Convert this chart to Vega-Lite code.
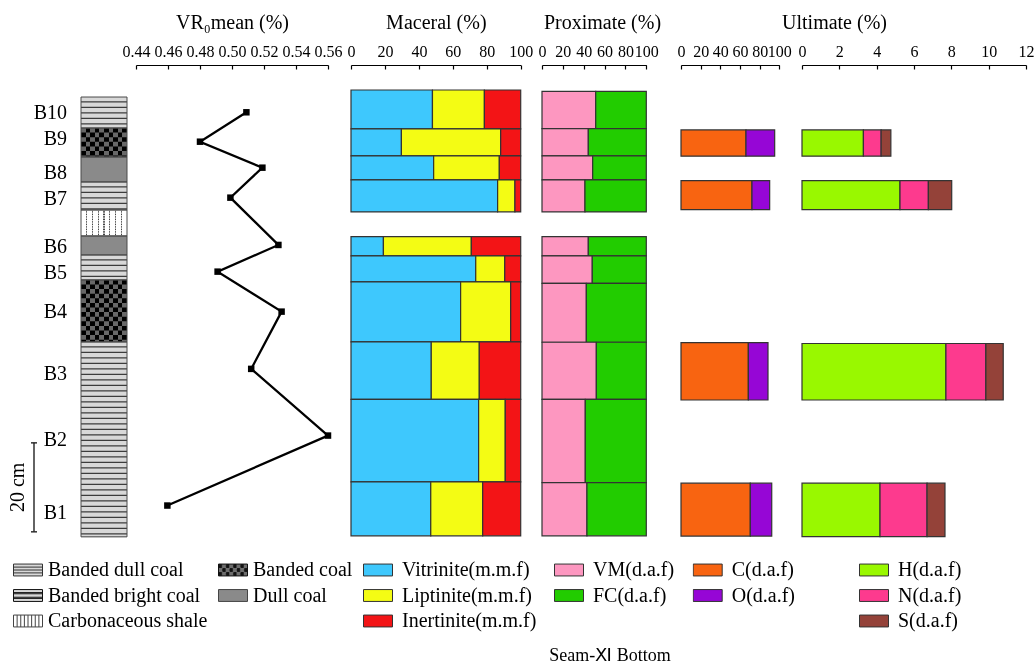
{
  "$schema": "https://vega.github.io/schema/vega-lite/v6.json",
  "background": "white",
  "padding": {"left": 8, "top": 12, "right": 0, "bottom": 0},
  "bounds": "flush",
  "spacing": 0,
  "title": {"text": "Seam-Ⅺ Bottom", "orient": "bottom", "anchor": "middle", "fontSize": 18, "fontWeight": "normal", "color": "#000", "offset": 15, "dx": 89},
  "datasets": {
    "scalebar": [{"label": "20 cm", "from": 77.74, "to": 97.74, "mid": 87.74}],
    "lith": [
      {"type": "Banded dull coal", "top": 0, "bottom": 6.96},
      {"type": "Banded coal", "top": 6.96, "bottom": 13.47},
      {"type": "Dull coal", "top": 13.47, "bottom": 19.09},
      {"type": "Banded dull coal", "top": 19.09, "bottom": 25.38},
      {"type": "Carbonaceous shale", "top": 25.38, "bottom": 31.23},
      {"type": "Dull coal", "top": 31.23, "bottom": 35.5},
      {"type": "Banded dull coal", "top": 35.5, "bottom": 41.11},
      {"type": "Banded coal", "top": 41.11, "bottom": 55.05},
      {"type": "Banded dull coal", "top": 55.05, "bottom": 98.87}
    ],
    "vr": [
      {"sample": "B10", "depth": 3.43, "labelDepth": 3.59, "vr": 0.509},
      {"sample": "B9", "depth": 10.04, "labelDepth": 9.38, "vr": 0.48},
      {"sample": "B8", "depth": 15.88, "labelDepth": 17.14, "vr": 0.519},
      {"sample": "B7", "depth": 22.62, "labelDepth": 22.96, "vr": 0.499},
      {"sample": "B6", "depth": 33.25, "labelDepth": 33.63, "vr": 0.529},
      {"sample": "B5", "depth": 39.25, "labelDepth": 39.54, "vr": 0.491},
      {"sample": "B4", "depth": 48.24, "labelDepth": 48.42, "vr": 0.531},
      {"sample": "B3", "depth": 61.11, "labelDepth": 62.28, "vr": 0.512},
      {"sample": "B2", "depth": 76.1, "labelDepth": 77.07, "vr": 0.56},
      {"sample": "B1", "depth": 91.83, "labelDepth": 93.54, "vr": 0.4596}
    ],
    "maceral": [
      {"sample": "B10", "top": -1.58, "bottom": 7.18, "component": "Vitrinite(m.m.f)", "value": 48.0},
      {"sample": "B10", "top": -1.58, "bottom": 7.18, "component": "Liptinite(m.m.f)", "value": 30.6},
      {"sample": "B10", "top": -1.58, "bottom": 7.18, "component": "Inertinite(m.m.f)", "value": 21.4},
      {"sample": "B9", "top": 7.18, "bottom": 13.25, "component": "Vitrinite(m.m.f)", "value": 29.7},
      {"sample": "B9", "top": 7.18, "bottom": 13.25, "component": "Liptinite(m.m.f)", "value": 58.5},
      {"sample": "B9", "top": 7.18, "bottom": 13.25, "component": "Inertinite(m.m.f)", "value": 11.8},
      {"sample": "B8", "top": 13.25, "bottom": 18.64, "component": "Vitrinite(m.m.f)", "value": 48.7},
      {"sample": "B8", "top": 13.25, "bottom": 18.64, "component": "Liptinite(m.m.f)", "value": 38.7},
      {"sample": "B8", "top": 13.25, "bottom": 18.64, "component": "Inertinite(m.m.f)", "value": 12.6},
      {"sample": "B7", "top": 18.64, "bottom": 25.83, "component": "Vitrinite(m.m.f)", "value": 86.4},
      {"sample": "B7", "top": 18.64, "bottom": 25.83, "component": "Liptinite(m.m.f)", "value": 10.2},
      {"sample": "B7", "top": 18.64, "bottom": 25.83, "component": "Inertinite(m.m.f)", "value": 3.4},
      {"sample": "B6", "top": 31.38, "bottom": 35.72, "component": "Vitrinite(m.m.f)", "value": 19.1},
      {"sample": "B6", "top": 31.38, "bottom": 35.72, "component": "Liptinite(m.m.f)", "value": 51.8},
      {"sample": "B6", "top": 31.38, "bottom": 35.72, "component": "Inertinite(m.m.f)", "value": 29.1},
      {"sample": "B5", "top": 35.72, "bottom": 41.56, "component": "Vitrinite(m.m.f)", "value": 73.5},
      {"sample": "B5", "top": 35.72, "bottom": 41.56, "component": "Liptinite(m.m.f)", "value": 17.1},
      {"sample": "B5", "top": 35.72, "bottom": 41.56, "component": "Inertinite(m.m.f)", "value": 9.4},
      {"sample": "B4", "top": 41.56, "bottom": 55.05, "component": "Vitrinite(m.m.f)", "value": 64.6},
      {"sample": "B4", "top": 41.56, "bottom": 55.05, "component": "Liptinite(m.m.f)", "value": 29.5},
      {"sample": "B4", "top": 41.56, "bottom": 55.05, "component": "Inertinite(m.m.f)", "value": 5.9},
      {"sample": "B3", "top": 55.05, "bottom": 67.97, "component": "Vitrinite(m.m.f)", "value": 47.3},
      {"sample": "B3", "top": 55.05, "bottom": 67.97, "component": "Liptinite(m.m.f)", "value": 28.3},
      {"sample": "B3", "top": 55.05, "bottom": 67.97, "component": "Inertinite(m.m.f)", "value": 24.4},
      {"sample": "B2", "top": 67.97, "bottom": 86.51, "component": "Vitrinite(m.m.f)", "value": 75.2},
      {"sample": "B2", "top": 67.97, "bottom": 86.51, "component": "Liptinite(m.m.f)", "value": 15.7},
      {"sample": "B2", "top": 67.97, "bottom": 86.51, "component": "Inertinite(m.m.f)", "value": 9.1},
      {"sample": "B1", "top": 86.51, "bottom": 98.64, "component": "Vitrinite(m.m.f)", "value": 47.0},
      {"sample": "B1", "top": 86.51, "bottom": 98.64, "component": "Liptinite(m.m.f)", "value": 30.6},
      {"sample": "B1", "top": 86.51, "bottom": 98.64, "component": "Inertinite(m.m.f)", "value": 22.4}
    ],
    "prox": [
      {"sample": "B10", "top": -1.29, "bottom": 7.1, "component": "VM(d.a.f)", "value": 51.5},
      {"sample": "B10", "top": -1.29, "bottom": 7.1, "component": "FC(d.a.f)", "value": 48.5},
      {"sample": "B9", "top": 7.1, "bottom": 13.25, "component": "VM(d.a.f)", "value": 44.4},
      {"sample": "B9", "top": 7.1, "bottom": 13.25, "component": "FC(d.a.f)", "value": 55.6},
      {"sample": "B8", "top": 13.25, "bottom": 18.64, "component": "VM(d.a.f)", "value": 48.6},
      {"sample": "B8", "top": 13.25, "bottom": 18.64, "component": "FC(d.a.f)", "value": 51.4},
      {"sample": "B7", "top": 18.64, "bottom": 25.83, "component": "VM(d.a.f)", "value": 41.2},
      {"sample": "B7", "top": 18.64, "bottom": 25.83, "component": "FC(d.a.f)", "value": 58.8},
      {"sample": "B6", "top": 31.38, "bottom": 35.72, "component": "VM(d.a.f)", "value": 44.4},
      {"sample": "B6", "top": 31.38, "bottom": 35.72, "component": "FC(d.a.f)", "value": 55.6},
      {"sample": "B5", "top": 35.72, "bottom": 41.9, "component": "VM(d.a.f)", "value": 48.2},
      {"sample": "B5", "top": 35.72, "bottom": 41.9, "component": "FC(d.a.f)", "value": 51.8},
      {"sample": "B4", "top": 41.9, "bottom": 55.12, "component": "VM(d.a.f)", "value": 42.5},
      {"sample": "B4", "top": 41.9, "bottom": 55.12, "component": "FC(d.a.f)", "value": 57.5},
      {"sample": "B3", "top": 55.12, "bottom": 67.97, "component": "VM(d.a.f)", "value": 52.1},
      {"sample": "B3", "top": 55.12, "bottom": 67.97, "component": "FC(d.a.f)", "value": 47.9},
      {"sample": "B2", "top": 67.97, "bottom": 86.7, "component": "VM(d.a.f)", "value": 41.5},
      {"sample": "B2", "top": 67.97, "bottom": 86.7, "component": "FC(d.a.f)", "value": 58.5},
      {"sample": "B1", "top": 86.7, "bottom": 98.64, "component": "VM(d.a.f)", "value": 43.1},
      {"sample": "B1", "top": 86.7, "bottom": 98.64, "component": "FC(d.a.f)", "value": 56.9}
    ],
    "co": [
      {"sample": "B9", "top": 7.4, "bottom": 13.3, "component": "C(d.a.f)", "value": 66.1},
      {"sample": "B9", "top": 7.4, "bottom": 13.3, "component": "O(d.a.f)", "value": 29.2},
      {"sample": "B7", "top": 18.8, "bottom": 25.3, "component": "C(d.a.f)", "value": 72.2},
      {"sample": "B7", "top": 18.8, "bottom": 25.3, "component": "O(d.a.f)", "value": 18.0},
      {"sample": "B3", "top": 55.2, "bottom": 68.1, "component": "C(d.a.f)", "value": 68.5},
      {"sample": "B3", "top": 55.2, "bottom": 68.1, "component": "O(d.a.f)", "value": 20.0},
      {"sample": "B1", "top": 86.8, "bottom": 98.7, "component": "C(d.a.f)", "value": 70.5},
      {"sample": "B1", "top": 86.8, "bottom": 98.7, "component": "O(d.a.f)", "value": 21.8}
    ],
    "hns": [
      {"sample": "B9", "top": 7.4, "bottom": 13.3, "component": "H(d.a.f)", "value": 3.29},
      {"sample": "B9", "top": 7.4, "bottom": 13.3, "component": "N(d.a.f)", "value": 0.95},
      {"sample": "B9", "top": 7.4, "bottom": 13.3, "component": "S(d.a.f)", "value": 0.52},
      {"sample": "B7", "top": 18.8, "bottom": 25.3, "component": "H(d.a.f)", "value": 5.25},
      {"sample": "B7", "top": 18.8, "bottom": 25.3, "component": "N(d.a.f)", "value": 1.52},
      {"sample": "B7", "top": 18.8, "bottom": 25.3, "component": "S(d.a.f)", "value": 1.25},
      {"sample": "B3", "top": 55.4, "bottom": 68.1, "component": "H(d.a.f)", "value": 7.71},
      {"sample": "B3", "top": 55.4, "bottom": 68.1, "component": "N(d.a.f)", "value": 2.14},
      {"sample": "B3", "top": 55.4, "bottom": 68.1, "component": "S(d.a.f)", "value": 0.93},
      {"sample": "B1", "top": 86.8, "bottom": 98.8, "component": "H(d.a.f)", "value": 4.18},
      {"sample": "B1", "top": 86.8, "bottom": 98.8, "component": "N(d.a.f)", "value": 2.52},
      {"sample": "B1", "top": 86.8, "bottom": 98.8, "component": "S(d.a.f)", "value": 0.96}
    ]
  },
  "hconcat": [
    {
      "width": 6, "height": 476,
      "data": {"name": "scalebar"},
      "layer": [
        {"mark": {"type": "rule", "color": "#222", "strokeWidth": 1.4},
         "encoding": {"y": {"field": "from", "type": "quantitative", "scale": {"domain": [-7.2, 99.8], "reverse": true, "nice": false, "zero": false}, "axis": null}, "y2": {"field": "to"}}},
        {"mark": {"type": "rule", "color": "#222", "strokeWidth": 1.4},
         "encoding": {"y": {"field": "from", "type": "quantitative", "scale": {"domain": [-7.2, 99.8], "reverse": true, "nice": false, "zero": false}, "axis": null}}},
        {"mark": {"type": "rule", "color": "#222", "strokeWidth": 1.4},
         "encoding": {"y": {"field": "to", "type": "quantitative", "scale": {"domain": [-7.2, 99.8], "reverse": true, "nice": false, "zero": false}, "axis": null}}},
        {"mark": {"type": "text", "angle": 270, "dy": -16, "fontSize": 20, "align": "center", "baseline": "middle", "color": "#000"},
         "encoding": {"y": {"field": "mid", "type": "quantitative", "scale": {"domain": [-7.2, 99.8], "reverse": true, "nice": false, "zero": false}, "axis": null}, "text": {"field": "label"}}}
      ]
    },
    {
      "width": 44, "height": 476,
      "data": {"name": "vr"},
      "mark": {"type": "text", "align": "right", "baseline": "middle", "dx": 8, "fontSize": 20, "color": "#000"},
      "encoding": {
        "y": {"field": "labelDepth", "type": "quantitative", "scale": {"domain": [-7.2, 99.8], "reverse": true, "nice": false, "zero": false}, "axis": null},
        "text": {"field": "sample"}
      }
    },
    {
      "width": 46, "height": 476,
      "data": {"name": "lith"},
      "encoding": {
        "y": {"field": "top", "type": "quantitative", "scale": {"domain": [-7.2, 99.8], "reverse": true, "nice": false, "zero": false}, "axis": null}
      },
      "layer": [
        {"transform": [{"filter": "datum.type == 'Banded dull coal'"}],
         "mark": {"type": "rect", "fill": "#3c3c3c"},
         "encoding": {"y2": {"field": "bottom"}}},
        {"transform": [{"filter": "datum.type == 'Banded dull coal'"}],
         "mark": {"type": "rule", "stroke": "#d8d8d8", "strokeWidth": 46, "strokeDash": [4.3, 1.2], "strokeCap": "butt"},
         "encoding": {"y2": {"field": "bottom"}}},
        {"transform": [{"filter": "datum.type == 'Banded coal'"}],
         "mark": {"type": "rect", "fill": {"gradient": "linear", "x1": 0, "y1": 0, "x2": 1, "y2": 0, "stops": [
           {"offset": 0, "color": "#000000"}, {"offset": 0.1, "color": "#000000"},
           {"offset": 0.1, "color": "#686868"}, {"offset": 0.2, "color": "#686868"},
           {"offset": 0.2, "color": "#000000"}, {"offset": 0.3, "color": "#000000"},
           {"offset": 0.3, "color": "#686868"}, {"offset": 0.4, "color": "#686868"},
           {"offset": 0.4, "color": "#000000"}, {"offset": 0.5, "color": "#000000"},
           {"offset": 0.5, "color": "#686868"}, {"offset": 0.6, "color": "#686868"},
           {"offset": 0.6, "color": "#000000"}, {"offset": 0.7, "color": "#000000"},
           {"offset": 0.7, "color": "#686868"}, {"offset": 0.8, "color": "#686868"},
           {"offset": 0.8, "color": "#000000"}, {"offset": 0.9, "color": "#000000"},
           {"offset": 0.9, "color": "#686868"}, {"offset": 1, "color": "#686868"}]}},
         "encoding": {"y2": {"field": "bottom"}}},
        {"transform": [{"filter": "datum.type == 'Banded coal'"}],
         "mark": {"type": "rule", "stroke": "#686868", "strokeWidth": 46, "strokeDash": [4.6, 4.6], "strokeCap": "butt", "blend": "difference"},
         "encoding": {"y2": {"field": "bottom"}}},
        {"transform": [{"filter": "datum.type == 'Dull coal'"}],
         "mark": {"type": "rect", "fill": "#8a8a8a"},
         "encoding": {"y2": {"field": "bottom"}}},
        {"transform": [{"filter": "datum.type == 'Carbonaceous shale'"}],
         "mark": {"type": "rect", "fill": {"gradient": "linear", "x1": 0, "y1": 0, "x2": 1, "y2": 0, "stops": [
           {"offset": 0, "color": "#ffffff"}, {"offset": 0.114, "color": "#ffffff"},
           {"offset": 0.114, "color": "#444444"}, {"offset": 0.136, "color": "#444444"},
           {"offset": 0.136, "color": "#ffffff"}, {"offset": 0.239, "color": "#ffffff"},
           {"offset": 0.239, "color": "#444444"}, {"offset": 0.261, "color": "#444444"},
           {"offset": 0.261, "color": "#ffffff"}, {"offset": 0.364, "color": "#ffffff"},
           {"offset": 0.364, "color": "#444444"}, {"offset": 0.386, "color": "#444444"},
           {"offset": 0.386, "color": "#ffffff"}, {"offset": 0.489, "color": "#ffffff"},
           {"offset": 0.489, "color": "#444444"}, {"offset": 0.511, "color": "#444444"},
           {"offset": 0.511, "color": "#ffffff"}, {"offset": 0.614, "color": "#ffffff"},
           {"offset": 0.614, "color": "#444444"}, {"offset": 0.636, "color": "#444444"},
           {"offset": 0.636, "color": "#ffffff"}, {"offset": 0.739, "color": "#ffffff"},
           {"offset": 0.739, "color": "#444444"}, {"offset": 0.761, "color": "#444444"},
           {"offset": 0.761, "color": "#ffffff"}, {"offset": 0.864, "color": "#ffffff"},
           {"offset": 0.864, "color": "#444444"}, {"offset": 0.886, "color": "#444444"},
           {"offset": 0.886, "color": "#ffffff"}, {"offset": 1, "color": "#ffffff"}]}},
         "encoding": {"y2": {"field": "bottom"}}},
        {"transform": [{"filter": "datum.type == 'Carbonaceous shale'"}],
         "mark": {"type": "rule", "stroke": "#ffffff", "strokeWidth": 46, "strokeDash": [1.2, 1.3], "strokeCap": "butt", "opacity": 0.8},
         "encoding": {"y2": {"field": "bottom"}}},
        {"mark": {"type": "rect", "fill": "transparent", "stroke": "#4a4a4a", "strokeWidth": 1},
         "encoding": {"y2": {"field": "bottom"}}},
        {"mark": {"type": "point", "filled": true, "size": 0},
         "encoding": {
           "fill": {"field": "type", "type": "nominal",
             "scale": {"domain": ["Banded dull coal", "Banded bright coal", "Carbonaceous shale", "Banded coal", "Dull coal"],
                       "range": ["#d9d9d9", "#d9d9d9", "#ffffff", "#6e6e6e", "#8a8a8a"]},
             "legend": {"title": null, "orient": "none", "legendX": -68, "legendY": 494, "columns": 2, "columnPadding": 10, "labelOffset": 5, "symbolSize": 841, "symbolStrokeWidth": 1, "symbolOpacity": 1}},
           "stroke": {"field": "type", "type": "nominal",
             "scale": {"domain": ["Banded dull coal", "Banded bright coal", "Carbonaceous shale", "Banded coal", "Dull coal"],
                       "range": ["#333333", "#111111", "#444444", "#111111", "#444444"]},
             "legend": {"title": null, "orient": "none", "legendX": -68, "legendY": 494, "columns": 2, "columnPadding": 10, "labelOffset": 5, "symbolSize": 841, "symbolStrokeWidth": 1, "symbolOpacity": 1}},
           "shape": {"field": "type", "type": "nominal",
             "scale": {"domain": ["Banded dull coal", "Banded bright coal", "Carbonaceous shale", "Banded coal", "Dull coal"],
                       "range": [
                         "M-1,-0.41H1V0.41H-1Z M-1,-0.2H1 M-1,0H1 M-1,0.2H1",
                         "M-1,-0.41H1V0.41H-1Z M-1,-0.2H1V-0.12H-1Z M-1,0.12H1V0.2H-1Z",
                         "M-1,-0.41H1V0.41H-1Z M-0.75,-0.41V0.41 M-0.5,-0.41V0.41 M-0.25,-0.41V0.41 M0,-0.41V0.41 M0.25,-0.41V0.41 M0.5,-0.41V0.41 M0.75,-0.41V0.41",
                         "M-1,-0.41H1V0.41H-1Z M-0.97,-0.37H-0.78V-0.305H-0.97V-0.24H-0.78V-0.175H-0.97 M-0.47,-0.37H-0.28V-0.305H-0.47V-0.24H-0.28V-0.175H-0.47 M0.03,-0.37H0.22V-0.305H0.03V-0.24H0.22V-0.175H0.03 M0.53,-0.37H0.72V-0.305H0.53V-0.24H0.72V-0.175H0.53 M-0.72,-0.097H-0.53V-0.032H-0.72V0.033H-0.53V0.098H-0.72 M-0.22,-0.097H-0.03V-0.032H-0.22V0.033H-0.03V0.098H-0.22 M0.28,-0.097H0.47V-0.032H0.28V0.033H0.47V0.098H0.28 M0.78,-0.097H0.97V-0.032H0.78V0.033H0.97V0.098H0.78 M-0.97,0.177H-0.78V0.242H-0.97V0.307H-0.78V0.372H-0.97 M-0.47,0.177H-0.28V0.242H-0.47V0.307H-0.28V0.372H-0.47 M0.03,0.177H0.22V0.242H0.03V0.307H0.22V0.372H0.03 M0.53,0.177H0.72V0.242H0.53V0.307H0.72V0.372H0.53",
                         "M-1,-0.41H1V0.41H-1Z"
                       ]},
             "legend": {"title": null, "orient": "none", "legendX": -68, "legendY": 494, "columns": 2, "columnPadding": 10, "labelOffset": 5, "symbolSize": 841, "symbolStrokeWidth": 1, "symbolOpacity": 1}}
         }}
      ]
    },
    {
      "width": 224, "height": 476,
      "data": {"name": "vr"},
      "encoding": {
        "x": {"field": "vr", "type": "quantitative", "scale": {"domain": [0.44, 0.56], "range": [9, 201], "nice": false, "zero": false},
              "axis": {"orient": "top", "title": "VR₀mean (%)", "values": [0.44, 0.46, 0.48, 0.5, 0.52, 0.54, 0.56], "format": ".2f"}},
        "y": {"field": "depth", "type": "quantitative", "scale": {"domain": [-7.2, 99.8], "reverse": true, "nice": false, "zero": false}, "axis": null}
      },
      "layer": [
        {"mark": {"type": "line", "color": "#000", "strokeWidth": 2.3}, "encoding": {"order": {"field": "depth", "type": "quantitative"}}},
        {"mark": {"type": "square", "color": "#000", "size": 42, "opacity": 1, "filled": true}}
      ]
    },
    {
      "width": 191, "height": 476,
      "data": {"name": "maceral"},
      "transform": [{"stack": "value", "groupby": ["sample"], "sort": [{"field": "component", "order": "descending"}], "as": ["v0", "v1"]}],
      "mark": {"type": "rect", "stroke": "#333", "strokeWidth": 1.2},
      "encoding": {
        "x": {"field": "v0", "type": "quantitative", "scale": {"domain": [0, 100], "range": [0, 169.7], "nice": false}, "axis": {"orient": "top", "title": "Maceral (%)", "values": [0, 20, 40, 60, 80, 100]}},
        "x2": {"field": "v1"},
        "y": {"field": "top", "type": "quantitative", "scale": {"domain": [-7.2, 99.8], "reverse": true, "nice": false, "zero": false}, "axis": null},
        "y2": {"field": "bottom"},
        "color": {"field": "component", "type": "nominal",
          "scale": {"domain": ["Vitrinite(m.m.f)", "Liptinite(m.m.f)", "Inertinite(m.m.f)"], "range": ["#3ec8fd", "#f4fc14", "#f31416"]},
          "legend": {"title": null, "orient": "none", "legendX": 12, "legendY": 494, "symbolType": "M-1,-0.41H1V0.41H-1Z"}}
      }
    },
    {
      "width": 139, "height": 476,
      "data": {"name": "prox"},
      "transform": [{"stack": "value", "groupby": ["sample"], "sort": [{"field": "component", "order": "descending"}], "as": ["v0", "v1"]}],
      "mark": {"type": "rect", "stroke": "#333", "strokeWidth": 1.2},
      "encoding": {
        "x": {"field": "v0", "type": "quantitative", "scale": {"domain": [0, 100], "range": [0, 104.3], "nice": false}, "axis": {"orient": "top", "title": "Proximate (%)", "titleX": 60, "values": [0, 20, 40, 60, 80, 100]}},
        "x2": {"field": "v1"},
        "y": {"field": "top", "type": "quantitative", "scale": {"domain": [-7.2, 99.8], "reverse": true, "nice": false, "zero": false}, "axis": null},
        "y2": {"field": "bottom"},
        "color": {"field": "component", "type": "nominal",
          "scale": {"domain": ["VM(d.a.f)", "FC(d.a.f)"], "range": ["#fd97c0", "#22cc00"]},
          "legend": {"title": null, "orient": "none", "legendX": 12, "legendY": 494, "symbolType": "M-1,-0.41H1V0.41H-1Z"}}
      }
    },
    {
      "width": 121, "height": 476,
      "data": {"name": "co"},
      "transform": [{"stack": "value", "groupby": ["sample"], "sort": [{"field": "component", "order": "ascending"}], "as": ["v0", "v1"]}],
      "mark": {"type": "rect", "stroke": "#333", "strokeWidth": 1.2},
      "encoding": {
        "x": {"field": "v0", "type": "quantitative", "scale": {"domain": [0, 100], "range": [0, 98.3], "nice": false}, "axis": {"orient": "top", "title": null, "values": [0, 20, 40, 60, 80, 100]}},
        "x2": {"field": "v1"},
        "y": {"field": "top", "type": "quantitative", "scale": {"domain": [-7.2, 99.8], "reverse": true, "nice": false, "zero": false}, "axis": null},
        "y2": {"field": "bottom"},
        "color": {"field": "component", "type": "nominal",
          "scale": {"domain": ["C(d.a.f)", "O(d.a.f)"], "range": ["#f86411", "#9606d6"]},
          "legend": {"title": null, "orient": "none", "legendX": 11.7, "legendY": 494, "symbolType": "M-1,-0.41H1V0.41H-1Z"}}
      }
    },
    {
      "width": 224, "height": 476,
      "data": {"name": "hns"},
      "transform": [{"stack": "value", "groupby": ["sample"], "sort": [{"field": "component", "order": "ascending"}], "as": ["v0", "v1"]}],
      "mark": {"type": "rect", "stroke": "#333", "strokeWidth": 1.2},
      "encoding": {
        "x": {"field": "v0", "type": "quantitative", "scale": {"domain": [0, 12], "nice": false}, "axis": {"orient": "top", "title": "Ultimate (%)", "titleX": 32, "values": [0, 2, 4, 6, 8, 10, 12]}},
        "x2": {"field": "v1"},
        "y": {"field": "top", "type": "quantitative", "scale": {"domain": [-7.2, 99.8], "reverse": true, "nice": false, "zero": false}, "axis": null},
        "y2": {"field": "bottom"},
        "color": {"field": "component", "type": "nominal",
          "scale": {"domain": ["H(d.a.f)", "N(d.a.f)", "S(d.a.f)"], "range": ["#99f800", "#fd3a8e", "#944239"]},
          "legend": {"title": null, "orient": "none", "legendX": 57, "legendY": 494, "symbolType": "M-1,-0.41H1V0.41H-1Z"}}
      }
    }
  ],
  "resolve": {"scale": {"x": "independent", "y": "independent", "color": "independent", "fill": "independent", "stroke": "independent", "shape": "independent"}},
  "config": {
    "font": "Liberation Serif",
    "view": {"stroke": null},
    "axis": {"domainColor": "#000", "domainWidth": 1.2, "tickColor": "#000", "tickWidth": 1.2, "tickSize": -4, "labelPadding": 10, "labelFontSize": 16, "labelColor": "#000", "titleFontSize": 20, "titleFontWeight": "normal", "titleColor": "#000", "titlePadding": 11, "grid": false, "labelOverlap": false, "labelFlush": false, "labelBound": false},
    "legend": {"symbolSize": 841, "symbolStrokeColor": "#333", "symbolStrokeWidth": 1, "labelFontSize": 20, "labelColor": "#000", "labelOffset": 9, "clipHeight": 22, "rowPadding": 3.5, "padding": 0, "labelLimit": 300},
    "title": {"font": "Liberation Serif"}
  }
}
